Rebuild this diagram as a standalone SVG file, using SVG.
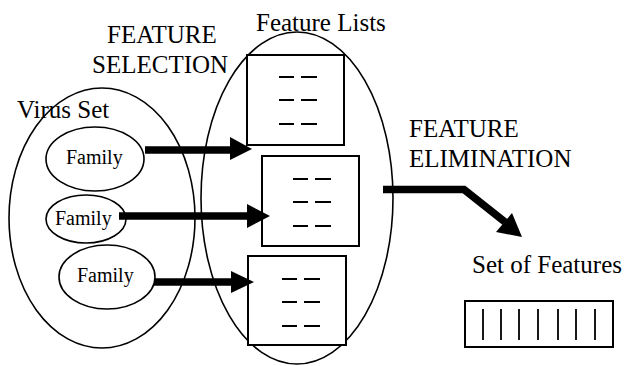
<svg xmlns="http://www.w3.org/2000/svg" width="631" height="366" viewBox="0 0 631 366">
  <defs>
    <!-- shared shapes: dash triplet used in every feature list -->
    <path id="dashes" d="M0 0h15M22 0h16M0 23h15M22 23h16M0 47h15M22 47h16" stroke="#000" stroke-width="2"/>
  </defs>
  <rect width="631" height="366" fill="#fff"/>

  <!-- group labels -->
  <text font-family="Times New Roman" font-size="25" x="107" y="43">FEATURE</text>
  <text font-family="Times New Roman" font-size="25" x="92" y="73">SELECTION</text>
  <text font-family="Times New Roman" font-size="25" x="256" y="31">Feature Lists</text>
  <text font-family="Times New Roman" font-size="25" x="409" y="137">FEATURE</text>
  <text font-family="Times New Roman" font-size="25" x="409" y="167">ELIMINATION</text>

  <!-- virus set -->
  <g id="virus-set">
    <ellipse cx="102" cy="218" rx="93" ry="130" fill="none" stroke="#000" stroke-width="1.6"/>
    <text font-family="Times New Roman" font-size="25" x="17" y="118">Virus Set</text>
  </g>

  <!-- feature list container -->
  <g id="feature-lists">
    <ellipse cx="297" cy="198" rx="96" ry="166" fill="none" stroke="#000" stroke-width="1.6"/>
  </g>

  <g id="family-1">
    <ellipse cx="95" cy="159" rx="49" ry="32" fill="#fff" stroke="#000" stroke-width="1.6"/>
    <text font-family="Times New Roman" font-size="20" x="66" y="164">Family</text>
  </g>
  <g id="family-2">
    <ellipse cx="86" cy="219" rx="40" ry="24" fill="#fff" stroke="#000" stroke-width="1.6"/>
    <text font-family="Times New Roman" font-size="20" x="55" y="225">Family</text>
  </g>
  <g id="family-3">
    <ellipse cx="107" cy="277" rx="48" ry="32" fill="#fff" stroke="#000" stroke-width="1.6"/>
    <text font-family="Times New Roman" font-size="20" x="77" y="282">Family</text>
  </g>

  <g id="list-1">
    <rect x="247" y="55" width="97" height="90" fill="#fff" stroke="#000" stroke-width="2"/>
    <use href="#dashes" x="279" y="77"/>
  </g>
  <g id="list-2">
    <rect x="262" y="156" width="97" height="90" fill="#fff" stroke="#000" stroke-width="2"/>
    <use href="#dashes" x="293" y="179"/>
  </g>
  <g id="list-3">
    <rect x="248" y="256" width="98" height="89" fill="#fff" stroke="#000" stroke-width="2"/>
    <use href="#dashes" x="282" y="279"/>
  </g>

  <g id="feature-set">
    <text font-family="Times New Roman" font-size="25" x="472" y="273">Set of Features</text>
    <rect x="465" y="301" width="148" height="46" fill="#fff" stroke="#000" stroke-width="2"/>
    <path d="M483 309v31M501 309v31M519 309v31M538 309v31M558 309v31M576 309v31M595 309v31" stroke="#000" stroke-width="1.8"/>
  </g>

  <!-- connectors: thick shafts with solid triangular heads -->
  <g id="connectors">
    <g fill="none" stroke="#000" stroke-width="7.5">
      <line x1="145" y1="150" x2="232" y2="150"/>
      <line x1="119" y1="216" x2="249" y2="216"/>
      <line x1="154" y1="282" x2="233" y2="282"/>
      <polyline points="383,189.5 464,189.5 505,222"/>
    </g>
    <g fill="#000">
      <polygon points="230,137 252,149 230,160"/>
      <polygon points="247,204 270,216 247,228"/>
      <polygon points="231,271 254,282 231,293"/>
      <polygon points="496,232 512,213 522,237"/>
    </g>
  </g>
</svg>
